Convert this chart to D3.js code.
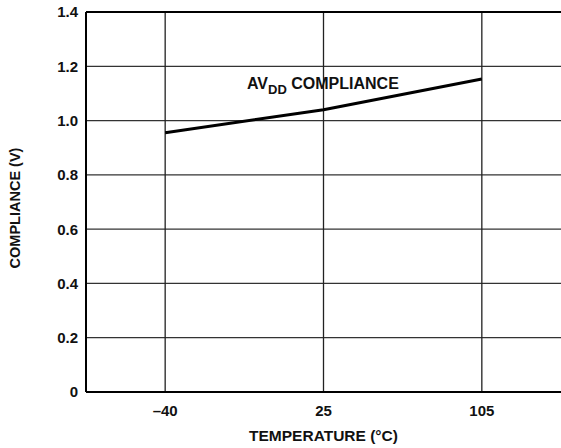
<!DOCTYPE html>
<html lang="en">
<head>
  <meta charset="UTF-8">
  <title>AVDD Compliance vs Temperature</title>
  <style>
    body { margin: 0; background: #fff; }
    text { font-family: "Liberation Sans", Arial, sans-serif; font-weight: bold; fill: #111; }
  </style>
</head>
<body>
  <svg id="svg" width="561" height="448"></svg>

  <script src="https://d3js.org/d3.v7.min.js"></script>
  <script>
    // data
    const temps = ['–40', '25', '105']
    const compliance = [0.955, 1.04, 1.153]
    const yTicks = [0, 0.2, 0.4, 0.6, 0.8, 1.0, 1.2, 1.4]

    const margin = { top: 12, right: 0, bottom: 56, left: 86 }
    const width = 561 - margin.left - margin.right
    const height = 448 - margin.top - margin.bottom

    const svg = d3.select('#svg')
    const g = svg.append('g').attr('transform', `translate(${margin.left},${margin.top})`)

    const x = d3.scalePoint().domain(temps).range([0, width]).padding(0.5)
    const y = d3.scaleLinear().domain([0, 1.4]).range([height, 0])

    // grid
    g.selectAll('.hgrid')
      .data(yTicks)
      .join('line')
      .attr('x1', 0).attr('x2', width)
      .attr('y1', d => y(d)).attr('y2', d => y(d))
      .attr('stroke', '#333').attr('stroke-width', 1.3)

    g.selectAll('.vgrid')
      .data(temps)
      .join('line')
      .attr('x1', d => x(d)).attr('x2', d => x(d))
      .attr('y1', 0).attr('y2', height)
      .attr('stroke', '#222').attr('stroke-width', 1.3)

    // frame
    g.append('line').attr('x1', 0).attr('x2', width).attr('y1', 0).attr('y2', 0)
      .attr('stroke', '#000').attr('stroke-width', 2)
    g.append('line').attr('x1', 0).attr('x2', width).attr('y1', height).attr('y2', height)
      .attr('stroke', '#000').attr('stroke-width', 2)
    g.append('line').attr('x1', 0).attr('x2', 0).attr('y1', 0).attr('y2', height)
      .attr('stroke', '#000').attr('stroke-width', 2)

    // tick labels
    g.selectAll('.ylab')
      .data(yTicks)
      .join('text')
      .attr('x', -8)
      .attr('y', d => y(d))
      .attr('dy', '0.36em')
      .attr('text-anchor', 'end')
      .attr('font-size', 15)
      .text(d => d === 0 ? '0' : d.toFixed(1))

    g.selectAll('.xlab')
      .data(temps)
      .join('text')
      .attr('x', d => x(d))
      .attr('y', height + 24)
      .attr('text-anchor', 'middle')
      .attr('font-size', 15)
      .text(d => d)

    // axis titles
    svg.append('text')
      .attr('x', margin.left + x('25'))
      .attr('y', 441)
      .attr('text-anchor', 'middle')
      .attr('font-size', 15.5)
      .text('TEMPERATURE (°C)')

    svg.append('text')
      .attr('transform', `translate(20,208) rotate(-90)`)
      .attr('text-anchor', 'middle')
      .attr('font-size', 14.5)
      .text('COMPLIANCE (V)')

    // the curve
    const line = d3.line()
      .x((d, i) => x(temps[i]))
      .y(d => y(d))

    g.append('path')
      .datum(compliance)
      .attr('d', line)
      .attr('fill', 'none')
      .attr('stroke', '#000')
      .attr('stroke-width', 3)
      .attr('stroke-linejoin', 'round')

    // series label
    const lab = svg.append('text')
      .attr('x', 247)
      .attr('y', 89)
      .attr('font-size', 16)
    lab.append('tspan').text('AV')
    lab.append('tspan').attr('dy', 5).attr('font-size', 13).text('DD')
    lab.append('tspan').attr('dy', -5).text(' COMPLIANCE')
  </script>
</body>
</html>
